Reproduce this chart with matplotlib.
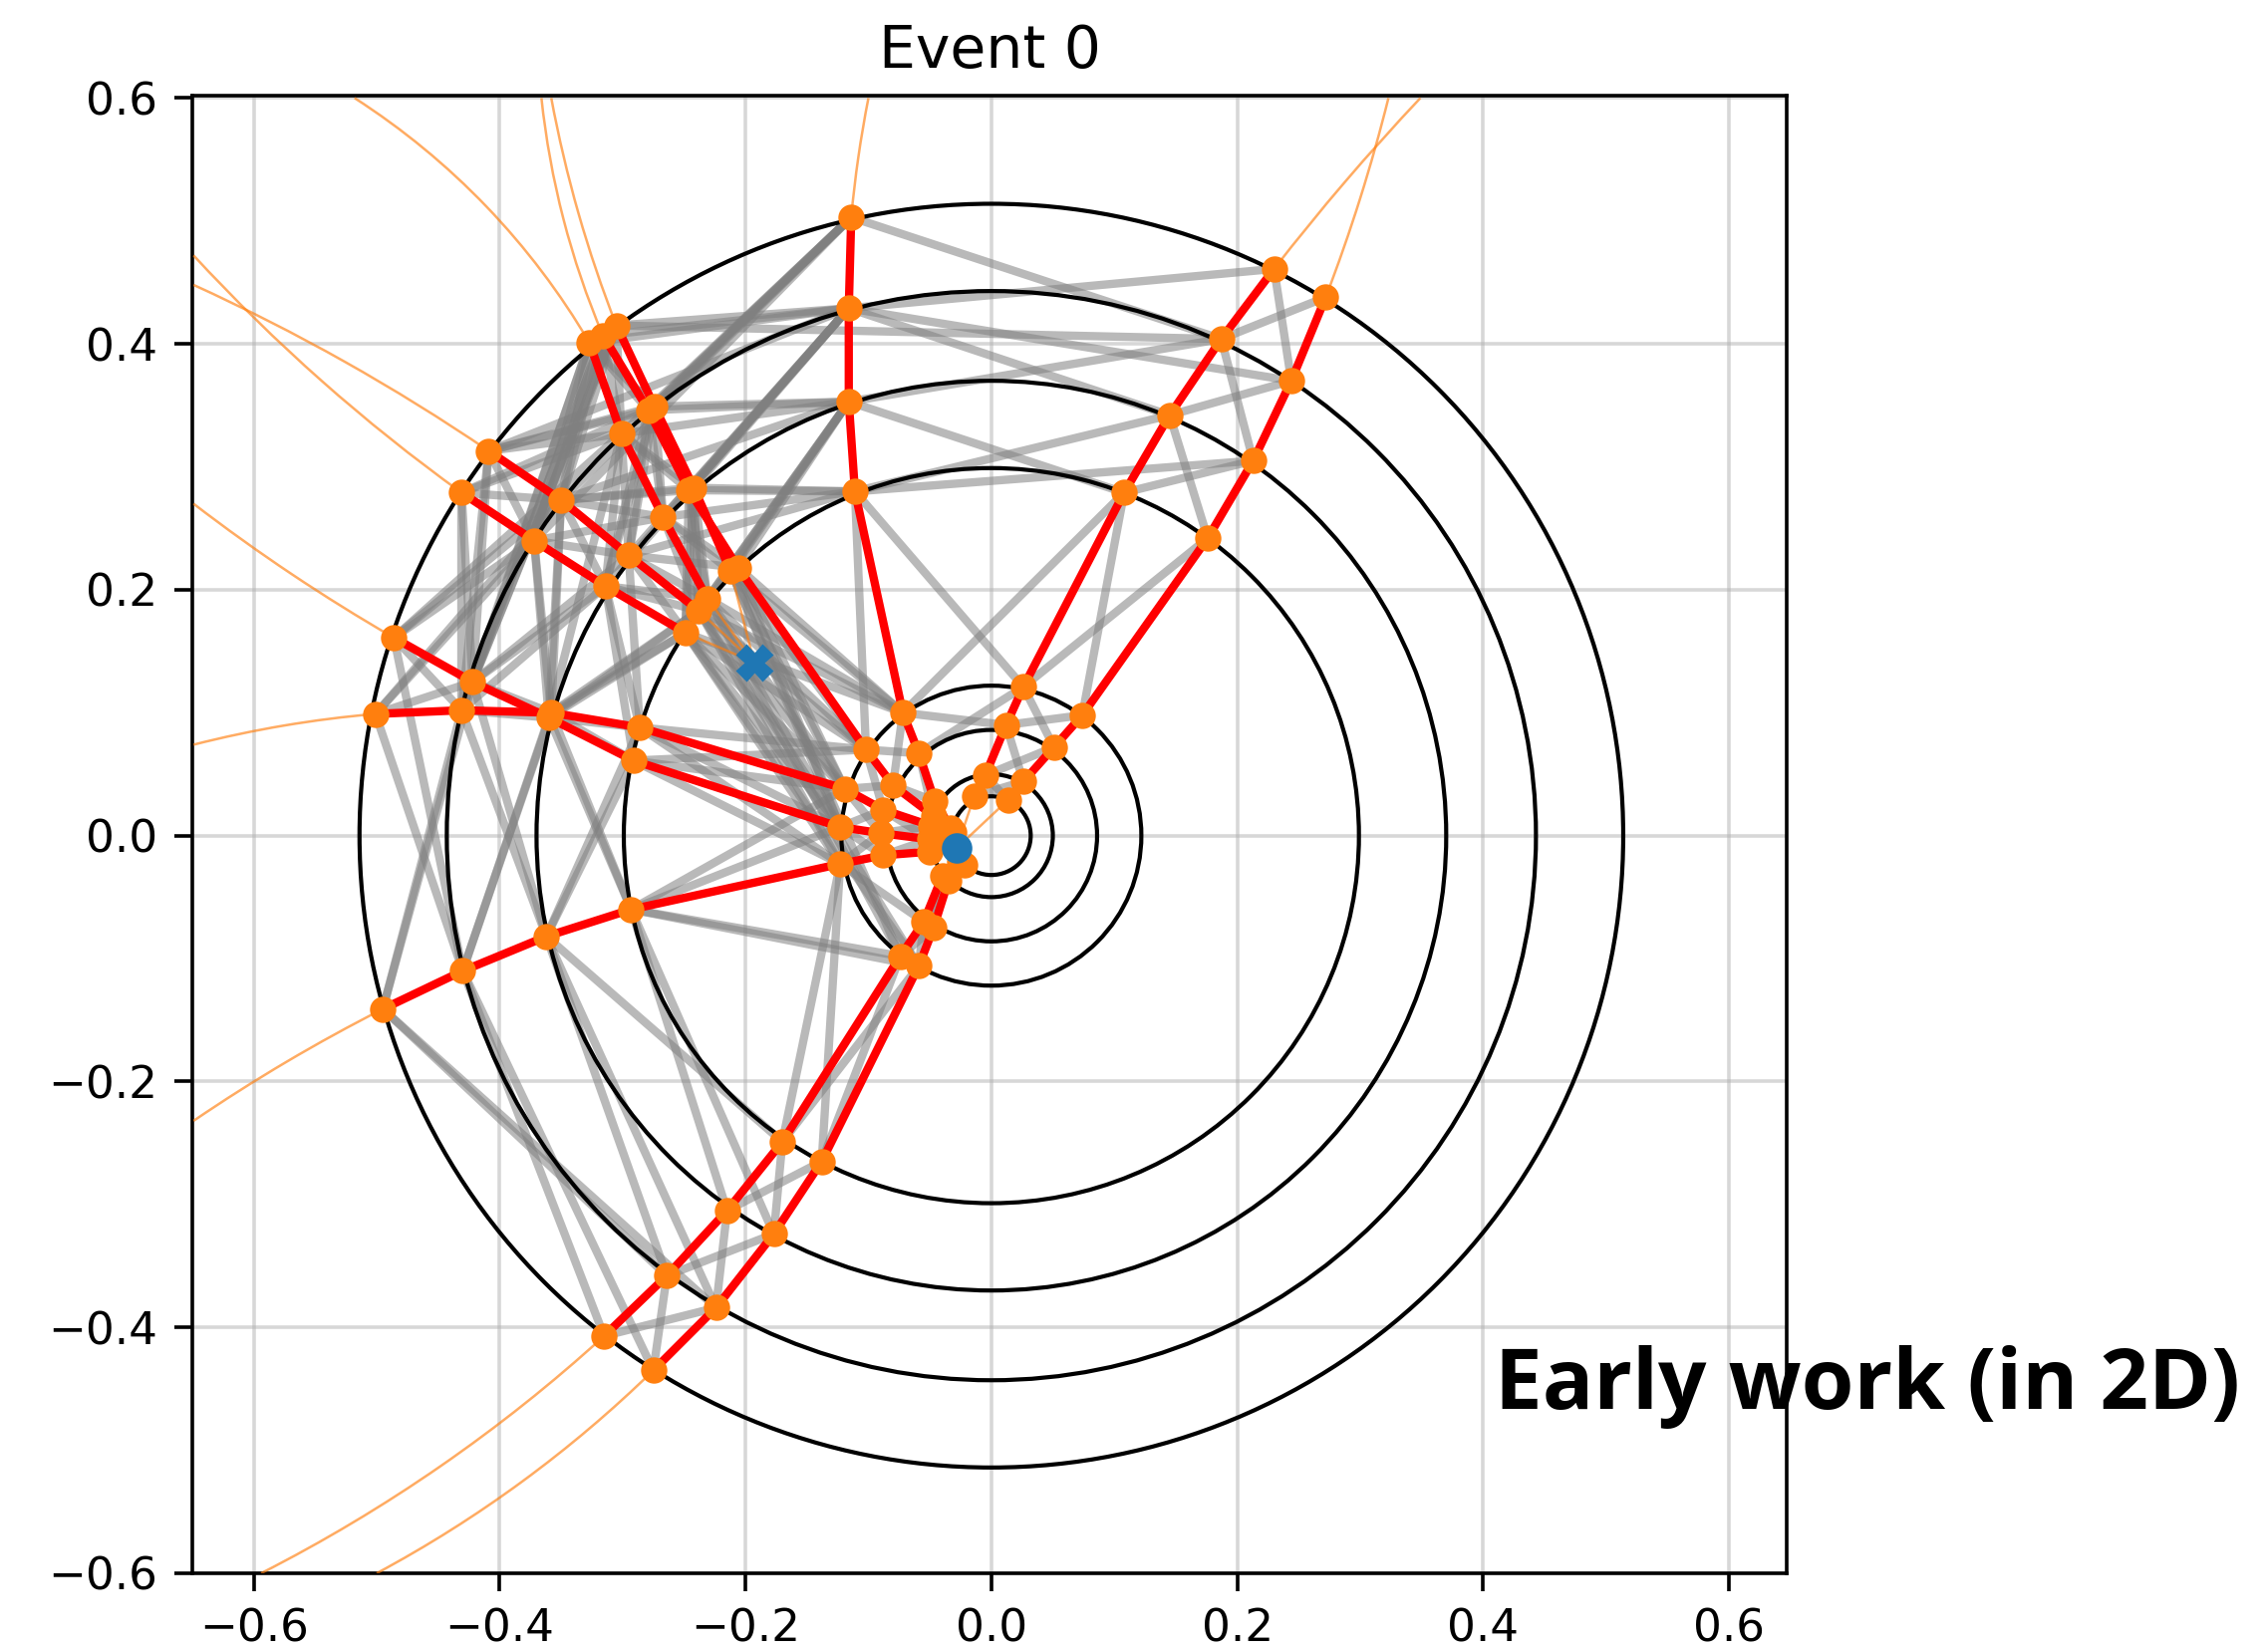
import math
import matplotlib.pyplot as plt
from matplotlib.collections import LineCollection
from matplotlib.patches import Arc


# Detector layer radii (black rings)
LAYER_R = [0.032, 0.050, 0.086, 0.122, 0.299, 0.370, 0.443, 0.514]

PRIMARY_VERTEX = (-0.028, -0.010)
DISPLACED_VERTEX = (-0.193, 0.141)

# Hits of each true track, innermost first.
# Primary tracks start at layer 0, displaced ones at layer 4.
track_a = [(-0.033, 0.006), (-0.046, 0.028), (-0.059, 0.067), (-0.072, 0.100),
           (-0.111, 0.280), (-0.116, 0.353), (-0.116, 0.429), (-0.114, 0.503)]
track_p = [(-0.032, 0.001), (-0.047, 0.016), (-0.080, 0.041), (-0.102, 0.070),
           (-0.206, 0.218), (-0.246, 0.281), (-0.279, 0.346), (-0.316, 0.407)]
track_tl1 = [(-0.032, -0.004), (-0.050, -0.003), (-0.090, 0.002), (-0.123, 0.007),
             (-0.291, 0.061), (-0.360, 0.096), (-0.422, 0.125), (-0.486, 0.161)]
track_tl2 = [(-0.031, 0.003), (-0.049, 0.008), (-0.088, 0.021), (-0.119, 0.038),
             (-0.286, 0.088), (-0.358, 0.100), (-0.431, 0.102), (-0.501, 0.099)]
track_tl3 = [(-0.031, -0.009), (-0.050, -0.013), (-0.088, -0.016), (-0.123, -0.023),
             (-0.293, -0.060), (-0.362, -0.082), (-0.430, -0.110), (-0.495, -0.141)]
track_ld1 = [(-0.026, -0.021), (-0.040, -0.033), (-0.055, -0.070), (-0.074, -0.098),
             (-0.170, -0.249), (-0.215, -0.305), (-0.264, -0.358), (-0.315, -0.407)]
track_ld2 = [(-0.022, -0.024), (-0.035, -0.037), (-0.047, -0.075), (-0.059, -0.106),
             (-0.138, -0.265), (-0.177, -0.324), (-0.224, -0.384), (-0.275, -0.435)]
track_ru1 = [(-0.014, 0.032), (-0.005, 0.049), (0.012, 0.090), (0.026, 0.121),
             (0.108, 0.279), (0.145, 0.342), (0.187, 0.404), (0.230, 0.461)]
track_ru2 = [(0.0135, 0.029), (0.026, 0.044), (0.051, 0.072), (0.074, 0.098),
             (0.176, 0.242), (0.213, 0.305), (0.244, 0.370), (0.272, 0.438)]
track_d1 = [(-0.231, 0.193), (-0.267, 0.259), (-0.301, 0.327), (-0.327, 0.401)]
track_d2 = [(-0.212, 0.215), (-0.242, 0.283), (-0.274, 0.349), (-0.305, 0.415)]
track_d3 = [(-0.238, 0.183), (-0.295, 0.228), (-0.350, 0.273), (-0.409, 0.313)]
track_d4 = [(-0.249, 0.165), (-0.314, 0.203), (-0.372, 0.240), (-0.431, 0.279)]

track_names = ["A", "P", "TL1", "TL2", "TL3", "LD1", "LD2", "RU1", "RU2",
               "D1", "D2", "D3", "D4"]
track_start_layer = [0, 0, 0, 0, 0, 0, 0, 0, 0, 4, 4, 4, 4]
# where each truth trajectory leaves the frame
track_exit = [(-0.100, 0.600), (-0.366, 0.600), (-0.649, 0.270), (-0.649, 0.074),
              (-0.649, -0.232), (-0.594, -0.600), (-0.500, -0.600), (0.349, 0.600),
              (0.323, 0.600), (-0.518, 0.600), (-0.358, 0.600), (-0.649, 0.448),
              (-0.649, 0.472)]

# candidate graph edges (track, layer) -> (track, layer)
edges = [
    # layer 7 - 6
    ("P", 7, "D1", 6), ("D2", 7, "D1", 6), ("D1", 7, "P", 6), ("D1", 7, "D2", 6),
    ("P", 7, "D3", 6), ("D2", 7, "D3", 6), ("D1", 7, "D3", 6),
    ("P", 7, "D4", 6), ("D1", 7, "D4", 6), ("D2", 7, "D4", 6),
    ("D1", 7, "TL1", 6), ("P", 7, "TL1", 6), ("D2", 7, "TL2", 6), ("D1", 7, "TL2", 6),
    ("D2", 7, "TL1", 6), ("P", 7, "TL2", 6),
    ("D3", 7, "D4", 6), ("D3", 7, "D1", 6), ("D3", 7, "P", 6), ("D3", 7, "TL1", 6),
    ("D3", 7, "D2", 6), ("D3", 7, "TL2", 6),
    ("D4", 7, "D3", 6), ("D4", 7, "TL1", 6), ("D4", 7, "TL2", 6), ("D4", 7, "D1", 6),
    ("D4", 7, "P", 6),
    ("TL1", 7, "D4", 6), ("TL1", 7, "D3", 6), ("TL1", 7, "TL2", 6), ("TL1", 7, "D1", 6),
    ("TL2", 7, "TL1", 6), ("TL2", 7, "D4", 6), ("TL2", 7, "D3", 6),
    ("A", 7, "P", 6), ("A", 7, "D2", 6), ("A", 7, "D1", 6), ("A", 7, "D3", 6),
    ("A", 7, "D4", 6), ("A", 7, "P", 6),
    ("P", 7, "A", 6), ("D2", 7, "A", 6), ("D1", 7, "A", 6), ("D3", 7, "A", 6),
    ("TL1", 7, "TL3", 6), ("TL2", 7, "TL3", 6), ("TL3", 7, "TL2", 6), ("TL3", 7, "TL1", 6),
    ("TL3", 7, "LD1", 6), ("TL3", 7, "LD2", 6), ("LD1", 7, "TL3", 6), ("LD2", 7, "TL3", 6),
    ("LD1", 7, "LD2", 6), ("LD2", 7, "LD1", 6),
    ("RU1", 7, "RU2", 6), ("RU2", 7, "RU1", 6), ("A", 7, "RU1", 6), ("A", 6, "RU1", 7),
    ("D2", 7, "RU1", 6),
    # layer 6 - 5
    ("P", 6, "D1", 5), ("D1", 6, "P", 5), ("D2", 6, "D1", 5), ("D1", 6, "D2", 5),
    ("D1", 6, "D3", 5), ("D3", 6, "D1", 5), ("D3", 6, "D4", 5), ("D4", 6, "D3", 5),
    ("P", 6, "D3", 5), ("D3", 6, "P", 5), ("D2", 6, "D3", 5), ("D1", 6, "D4", 5),
    ("P", 6, "D4", 5), ("D2", 6, "D4", 5), ("D3", 6, "D2", 5), ("D4", 6, "D1", 5),
    ("D4", 6, "TL1", 5), ("D4", 6, "TL2", 5), ("TL1", 6, "D4", 5),
    ("TL2", 6, "D4", 5), ("TL1", 6, "TL2", 5), ("TL2", 6, "TL1", 5),
    ("D3", 6, "TL1", 5), ("TL1", 6, "D3", 5), ("D3", 6, "TL2", 5), ("D1", 6, "TL1", 5),
    ("P", 6, "A", 5), ("D2", 6, "A", 5), ("D1", 6, "A", 5), ("D3", 6, "A", 5),
    ("A", 6, "P", 5), ("A", 6, "D2", 5), ("A", 6, "D1", 5), ("A", 6, "D3", 5),
    ("A", 6, "D4", 5), ("A", 6, "P", 5),
    ("TL1", 6, "TL3", 5), ("TL2", 6, "TL3", 5), ("TL3", 6, "TL1", 5), ("TL3", 6, "TL2", 5),
    ("TL3", 5, "LD1", 6), ("TL3", 5, "LD2", 6),
    ("LD1", 6, "LD2", 5), ("LD2", 6, "LD1", 5),
    ("RU1", 5, "RU2", 6), ("RU1", 6, "RU2", 5), ("A", 6, "RU1", 5), ("A", 5, "RU1", 6),
    ("A", 6, "RU2", 6),
    # layer 5 - 4
    ("P", 5, "D1", 4), ("D1", 5, "P", 4), ("D2", 5, "D1", 4), ("D1", 5, "D2", 4),
    ("D1", 5, "D3", 4), ("D3", 5, "D1", 4), ("D3", 5, "D4", 4), ("D4", 5, "D3", 4),
    ("P", 5, "D3", 4), ("P", 5, "D4", 4), ("D2", 5, "D4", 4), ("D2", 5, "D3", 4),
    ("D4", 5, "D1", 4), ("D3", 5, "P", 4),
    ("D4", 5, "TL1", 4), ("D4", 5, "TL2", 4), ("TL1", 5, "D4", 4), ("TL2", 5, "D4", 4),
    ("TL2", 5, "D3", 4), ("TL1", 5, "D3", 4), ("D3", 5, "TL2", 4),
    ("TL1", 5, "TL2", 4), ("TL2", 5, "TL1", 4), ("TL1", 5, "TL3", 4), ("TL2", 5, "TL3", 4),
    ("TL3", 5, "TL1", 4), ("TL3", 5, "TL2", 4),
    ("P", 5, "A", 4), ("D2", 5, "A", 4), ("D1", 5, "A", 4), ("D3", 5, "A", 4),
    ("A", 5, "P", 4), ("A", 5, "D2", 4), ("A", 5, "D1", 4), ("A", 5, "D3", 4),
    ("A", 5, "D4", 4),
    ("TL3", 4, "LD1", 5), ("TL3", 4, "LD2", 5), ("TL3", 5, "LD1", 4),
    ("LD1", 5, "LD2", 4), ("LD2", 5, "LD1", 4),
    ("RU1", 5, "RU2", 4), ("RU2", 5, "RU1", 4), ("A", 4, "RU1", 5), ("A", 5, "RU1", 4),
    ("A", 4, "RU2", 5),
    # layer 4 - 3
    ("D1", 4, "P", 3), ("D1", 4, "A", 3), ("D2", 4, "A", 3), ("D2", 4, "P", 3),
    ("D3", 4, "P", 3), ("D4", 4, "P", 3), ("D3", 4, "A", 3), ("D4", 4, "A", 3),
    ("D3", 4, "TL2", 3), ("D4", 4, "TL2", 3), ("D4", 4, "TL1", 3), ("D1", 4, "TL2", 3),
    ("D2", 4, "TL2", 3), ("P", 4, "TL2", 3), ("D3", 4, "TL1", 3), ("D1", 4, "TL1", 3),
    ("D4", 4, "TL3", 3), ("D3", 4, "TL3", 3), ("D2", 4, "TL1", 3), ("P", 4, "TL1", 3),
    ("TL1", 4, "TL2", 3), ("TL2", 4, "TL1", 3), ("TL1", 4, "TL3", 3), ("TL2", 4, "TL3", 3),
    ("TL3", 4, "TL1", 3), ("TL3", 4, "TL2", 3), ("TL1", 4, "P", 3), ("TL2", 4, "P", 3),
    ("A", 4, "P", 3), ("A", 4, "RU1", 3), ("P", 4, "A", 3),
    ("D1", 4, "LD1", 3), ("D2", 4, "LD1", 3), ("D4", 4, "LD2", 3), ("D3", 4, "LD2", 3),
    ("TL3", 4, "LD1", 3), ("TL3", 4, "LD2", 3), ("LD1", 4, "LD2", 3), ("LD2", 4, "LD1", 3),
    ("LD1", 4, "TL3", 3), ("LD2", 4, "TL3", 3),
    ("RU1", 4, "RU2", 3), ("RU2", 4, "RU1", 3), ("RU1", 4, "A", 3),
    # layer 3 - 0
    ("P", 3, "A", 2), ("A", 3, "P", 2), ("P", 3, "TL2", 2), ("TL2", 3, "P", 2),
    ("TL1", 3, "TL2", 2), ("TL2", 3, "TL1", 2), ("TL1", 3, "TL3", 2), ("TL3", 3, "TL1", 2),
    ("LD1", 3, "LD2", 2), ("LD2", 3, "LD1", 2), ("TL3", 3, "LD1", 2),
    ("RU1", 3, "RU2", 2), ("RU2", 3, "RU1", 2), ("A", 3, "RU1", 2), ("RU1", 3, "A", 2),
    ("RU1", 2, "RU2", 1), ("RU2", 2, "RU1", 1), ("A", 2, "P", 1), ("P", 2, "A", 1),
    ("TL1", 2, "TL2", 1), ("TL2", 2, "TL1", 1), ("TL3", 2, "TL1", 1),
    ("LD1", 2, "LD2", 1), ("LD2", 2, "LD1", 1),
    ("RU1", 1, "RU2", 0), ("RU2", 1, "RU1", 0),
]

X_TICKS = [-0.6, -0.4, -0.2, 0.0, 0.2, 0.4, 0.6]
Y_TICKS = [-0.6, -0.4, -0.2, 0.0, 0.2, 0.4, 0.6]


track_hits = [track_a, track_p, track_tl1, track_tl2, track_tl3, track_ld1, track_ld2,
              track_ru1, track_ru2, track_d1, track_d2, track_d3, track_d4]

hit_xy = {}
for name, start, hits in zip(track_names, track_start_layer, track_hits):
    for k, pt in enumerate(hits):
        hit_xy[(name, start + k)] = pt


def circle_arc(p0, p1, p2, **kw):
    # arc of the circle through p0, p1, p2, drawn from p1 to p2
    (x0, y0), (x1, y1), (x2, y2) = p0, p1, p2
    d = 2 * (x0 * (y1 - y2) + x1 * (y2 - y0) + x2 * (y0 - y1))
    if abs(d) < 1e-9:
        return None
    s0, s1, s2 = x0**2 + y0**2, x1**2 + y1**2, x2**2 + y2**2
    cx = (s0 * (y1 - y2) + s1 * (y2 - y0) + s2 * (y0 - y1)) / d
    cy = (s0 * (x2 - x1) + s1 * (x0 - x2) + s2 * (x1 - x0)) / d
    r = math.hypot(x1 - cx, y1 - cy)
    a1 = math.degrees(math.atan2(y1 - cy, x1 - cx))
    a2 = math.degrees(math.atan2(y2 - cy, x2 - cx))
    turn = (x1 - x0) * (y2 - y1) - (y1 - y0) * (x2 - x1)
    if turn > 0:
        t1, t2 = a1, a2
    else:
        t1, t2 = a2, a1
    while t2 < t1:
        t2 += 360
    return Arc((cx, cy), 2 * r, 2 * r, theta1=t1, theta2=t2, **kw)


fig = plt.figure(figsize=(11.38, 8.285), dpi=200)
ax = fig.add_axes([0.0848, 0.0471, 0.7030, 0.8950])

ax.grid(True, color="#b0b0b0", alpha=0.5, linewidth=1.3)

# candidate edges in grey
segs = [[hit_xy[(a, la)], hit_xy[(b, lb)]] for a, la, b, lb in edges]
ax.add_collection(LineCollection(segs, colors="gray", alpha=0.55, linewidths=3.0, zorder=2))

# detector layers
for r in LAYER_R:
    ax.add_patch(plt.Circle((0, 0), r, fill=False, color="black", lw=1.5, zorder=2.5))

# truth trajectories in thin orange
orange_kw = dict(color="#ff7f0e", lw=0.9, alpha=0.65, zorder=3)
for name, start, hits, ext in zip(track_names, track_start_layer, track_hits, track_exit):
    vtx = PRIMARY_VERTEX if start == 0 else DISPLACED_VERTEX
    xs = [vtx[0]] + [p[0] for p in hits]
    ys = [vtx[1]] + [p[1] for p in hits]
    ax.plot(xs, ys, **orange_kw)
    arc = circle_arc(hits[-3], hits[-1], ext, **orange_kw)
    if arc is not None:
        ax.add_patch(arc)

# true edges in red
for hits in track_hits:
    ax.plot([p[0] for p in hits], [p[1] for p in hits], color="red", lw=3.0,
            solid_capstyle="round", zorder=4)

# hits
all_x = [p[0] for hits in track_hits for p in hits]
all_y = [p[1] for hits in track_hits for p in hits]
ax.plot(all_x, all_y, "o", color="#ff7f0e", ms=8.5, zorder=5)

ax.plot(DISPLACED_VERTEX[0], DISPLACED_VERTEX[1], "X", color="#1f77b4", ms=12, zorder=6)
ax.plot(PRIMARY_VERTEX[0], PRIMARY_VERTEX[1], "o", color="#1f77b4", ms=10, zorder=6)

ax.set_xlim(-0.650, 0.647)
ax.set_ylim(-0.600, 0.602)
ax.set_xticks(X_TICKS)
ax.set_yticks(Y_TICKS)
ax.tick_params(labelsize=16.3, length=6.5, width=1.3, pad=6)
for sp in ax.spines.values():
    sp.set_linewidth(1.3)
ax.set_title("Event 0", fontsize=21, pad=10)

fig.text(1500 / 2276, 1 - 1414 / 1657, "Early work (in 2D)", fontsize=30.7,
         fontweight="bold", family="Open Sans", ha="left", va="baseline")

fig.savefig("out.png", dpi=200)
